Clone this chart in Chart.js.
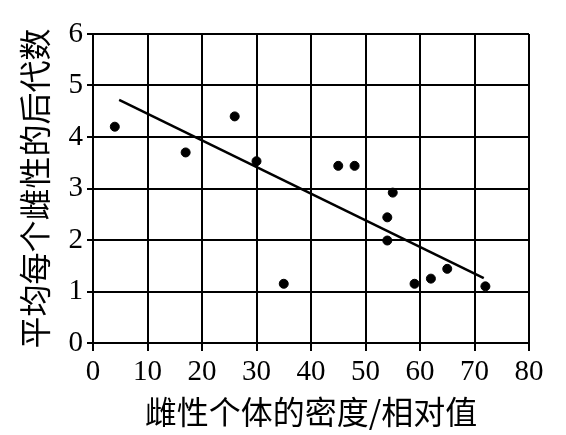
<!DOCTYPE html>
<html>
<head>
<meta charset="utf-8">
<script src="https://cdn.jsdelivr.net/npm/chart.js@4/dist/chart.umd.min.js"></script>
<style>
html,body{margin:0;padding:0;background:#fff;}
#wrap{width:566px;height:435px;position:relative;}
</style>
</head>
<body>
<div id="wrap"><canvas id="c" width="566" height="435"></canvas></div>
<script>
// Data
const densityX = [4, 17, 26, 30, 35, 45, 48, 55, 54, 54, 59, 62, 65, 72];
const offspringY = [4.2, 3.7, 4.4, 3.53, 1.15, 3.44, 3.44, 2.92, 2.44, 1.99, 1.15, 1.25, 1.44, 1.1];
const trendX = [4.8, 71.7];
const trendY = [4.72, 1.26];
const xTicks = [0, 10, 20, 30, 40, 50, 60, 70, 80];
const yTicks = [0, 1, 2, 3, 4, 5, 6];
const xTitle = '雌性个体的密度/相对值';
const yTitle = '平均每个雌性的后代数';

const pts = densityX.map((x, i) => ({x: x, y: offspringY[i]}));
const line = trendX.map((x, i) => ({x: x, y: trendY[i]}));

const numFont = {family: '"Liberation Serif", "DejaVu Serif", serif', size: 29};
const cjkFont = {family: '"Noto Sans CJK SC", sans-serif', size: 32};

new Chart(document.getElementById('c'), {
  type: 'scatter',
  data: {
    datasets: [
      {data: pts, backgroundColor: '#000', borderColor: '#000', pointRadius: 4.5, pointHoverRadius: 4.5},
      {data: line, showLine: true, borderColor: '#000', borderWidth: 2.5, pointRadius: 0, fill: false}
    ]
  },
  options: {
    responsive: false,
    animation: false,
    layout: {padding: {top: 34, right: 37, left: 0, bottom: 0}},
    plugins: {legend: {display: false}, tooltip: {enabled: false}},
    scales: {
      x: {
        type: 'linear', min: 0, max: 80,
        afterBuildTicks: s => { s.ticks = xTicks.map(v => ({value: v})); },
        afterFit: s => { s.height = 92; },
        ticks: {color: '#000', font: numFont, padding: 4},
        grid: {color: '#000', lineWidth: 2, tickLength: 8},
        border: {display: true, color: '#000', width: 2},
        title: {display: true, text: xTitle, color: '#000', font: cjkFont, padding: {top: 0, bottom: 4}}
      },
      y: {
        type: 'linear', min: 0, max: 6,
        afterBuildTicks: s => { s.ticks = yTicks.map(v => ({value: v})); },
        afterFit: s => { s.width = 93; },
        ticks: {color: '#000', font: numFont, padding: 4},
        grid: {color: '#000', lineWidth: 2, tickLength: 6},
        border: {display: true, color: '#000', width: 2},
        title: {display: true, text: yTitle, color: '#000', font: cjkFont, padding: {top: 16, bottom: 0}}
      }
    }
  }
});
</script>
</body>
</html>
